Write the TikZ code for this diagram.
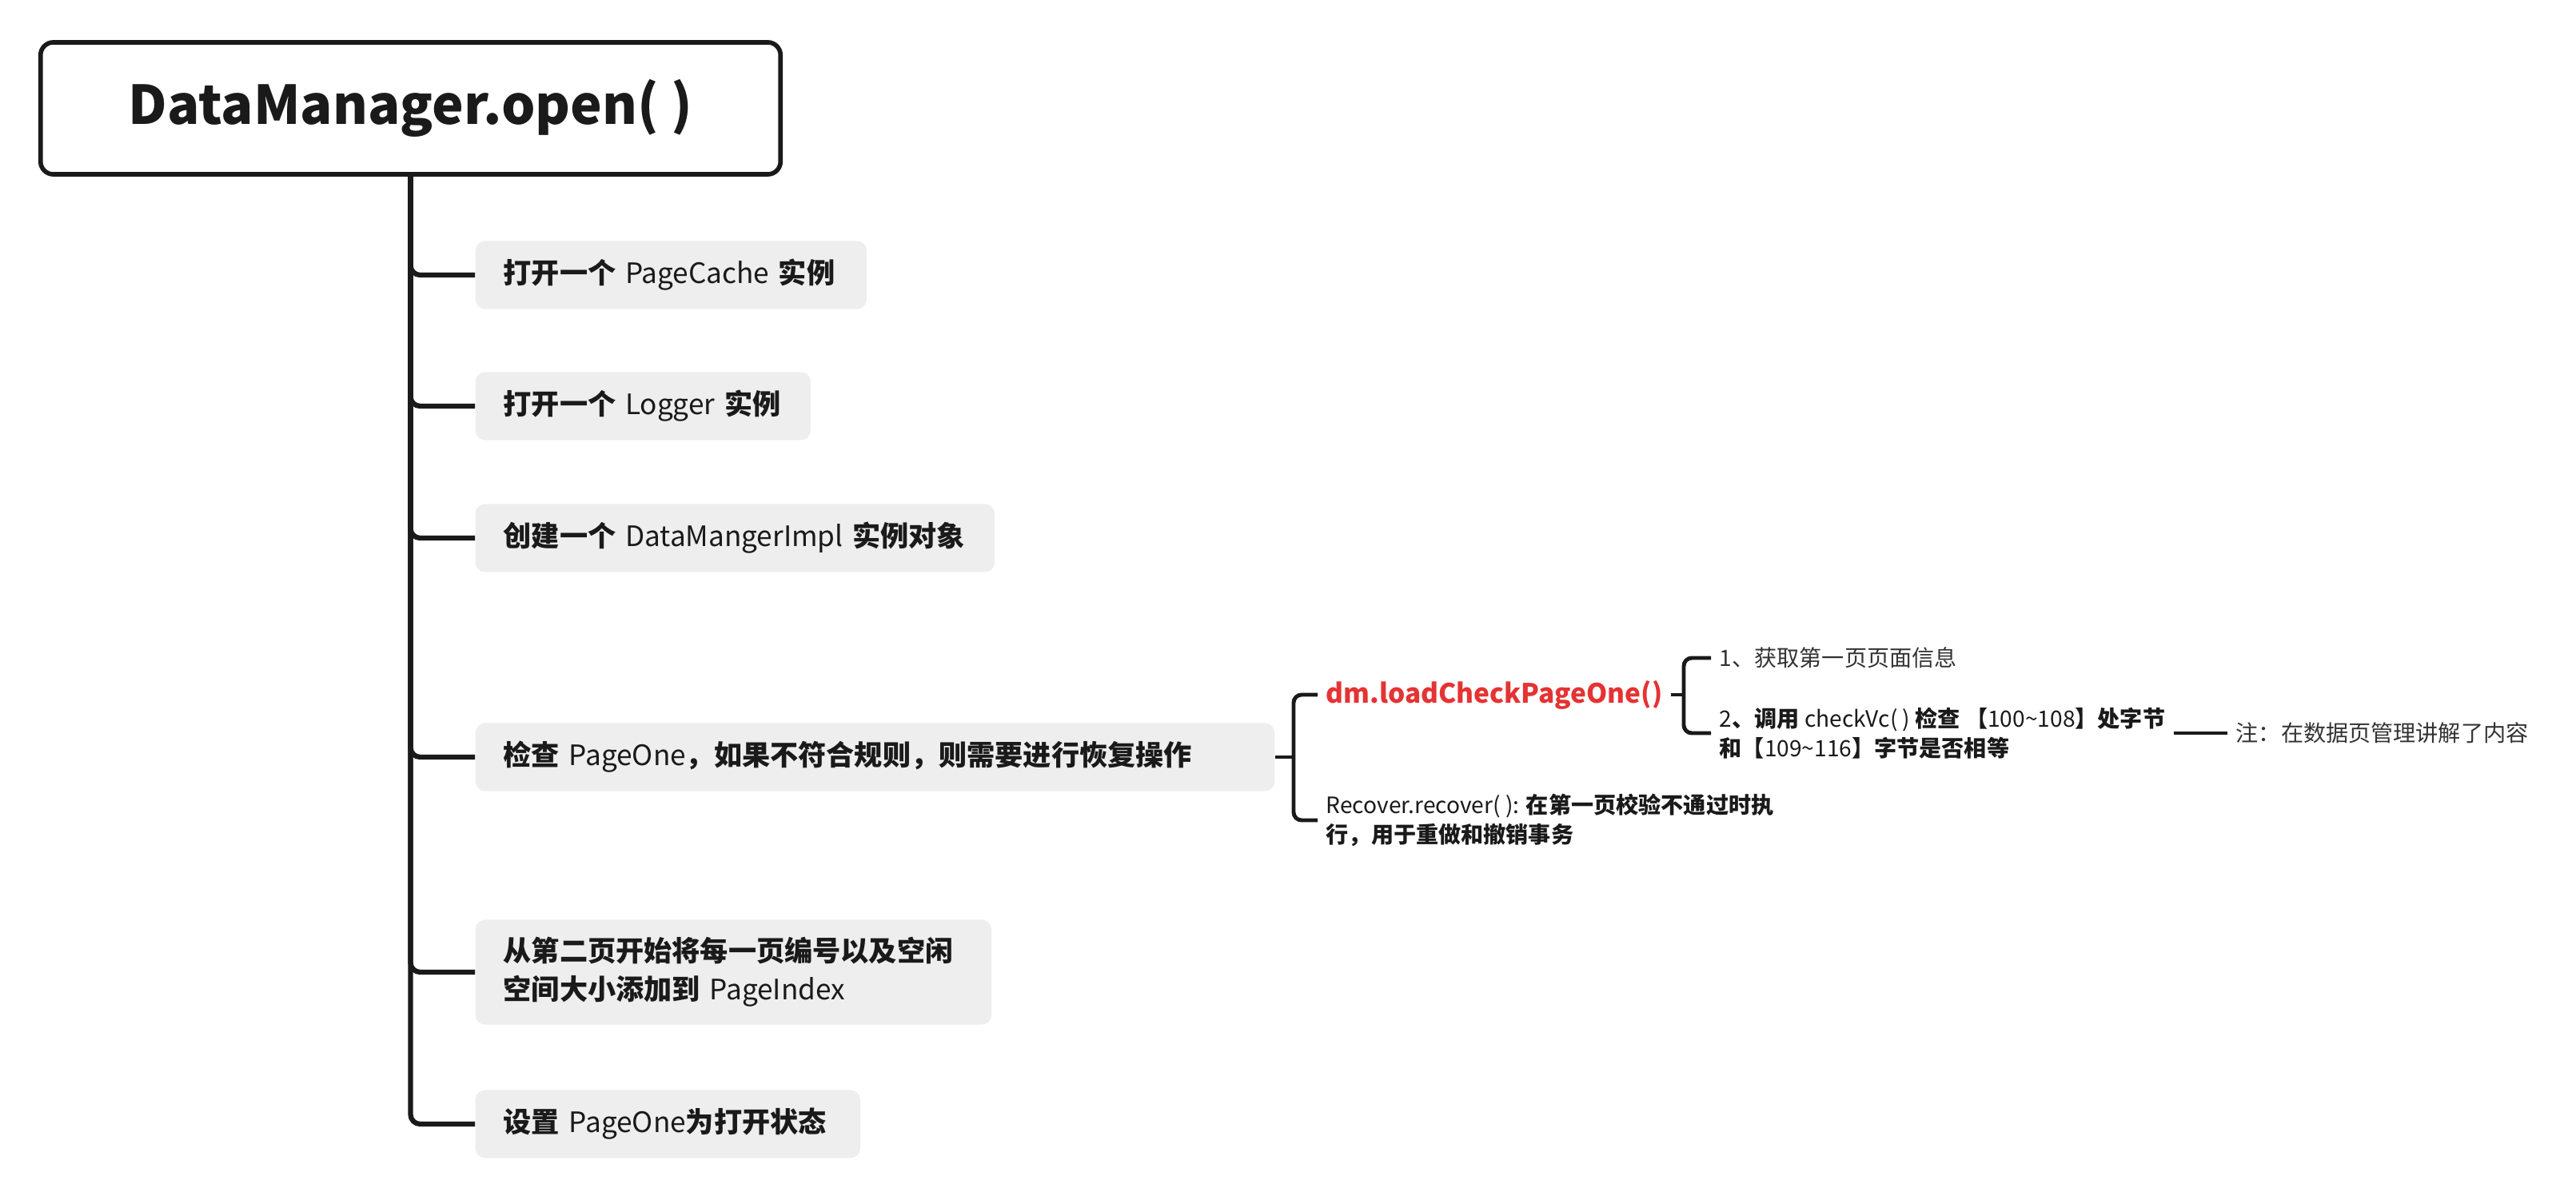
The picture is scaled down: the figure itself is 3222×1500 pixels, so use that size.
\documentclass[tikz,border=0pt]{standalone}
\usepackage{fontspec}
\setmainfont{Noto Sans CJK SC}
\usepackage{xcolor}
\usepackage{tikz}
\usetikzlibrary{positioning}

\definecolor{boxgray}{HTML}{EEEEEE}
\definecolor{linedark}{HTML}{1A1A1A}
\definecolor{txtred}{HTML}{E53333}
\definecolor{notegray}{HTML}{333333}
\newcommand{\zb}[1]{\textbf{#1}}

\begin{document}
\begin{tikzpicture}[x=0.01cm, y=-0.01cm,
  rootbox/.style={draw=linedark, line width=1.6pt, rounded corners=0.16cm,
    minimum width=9.25cm, minimum height=1.65cm, text=linedark,
    font=\fontsize{19}{23}\selectfont\bfseries},
  stepbox/.style={fill=boxgray, rounded corners=0.12cm, anchor=west,
    inner xsep=0.35cm, minimum height=0.85cm, align=left, text=linedark,
    font=\fontsize{10}{13.7}\selectfont},
  leaf/.style={anchor=west, inner xsep=0.1cm, inner ysep=0.05cm, align=left,
    text=linedark, font=\fontsize{8}{10.7}\selectfont},
  trunk/.style={draw=linedark, line width=1.8pt, rounded corners=0.12cm},
  twig/.style={draw=linedark, line width=1.4pt, rounded corners=0.1cm}]
\useasboundingbox (0,0) rectangle (3222,1500);

% root
\node[rootbox] (root) at (513.5,135.5) {DataManager.open( )};

% steps (box widths as in the map)
\node[stepbox, text width=4.19cm] (cache) at (594,344) {\zb{打开一个}~PageCache~\zb{实例}};
\node[stepbox, text width=3.49cm] (logger) at (594,508) {\zb{打开一个}~Logger~\zb{实例}};
\node[stepbox, text width=5.79cm] (impl) at (594,673) {\zb{创建一个}~DataMangerImpl~\zb{实例对象}};
\node[stepbox, text width=9.29cm] (pageone) at (594,947) {\zb{检查}~PageOne\zb{，如果不符合规则，则需要进行恢复操作}};
\node[stepbox, text width=5.75cm, minimum height=1.31cm] (pageidx) at (594,1216) {\zb{从第二页开始将每一页编号以及空闲}\\\zb{空间大小添加到}~PageIndex};
\node[stepbox, text width=4.11cm] (setopen) at (594,1406) {\zb{设置}~PageOne\zb{为打开状态}};

\foreach \n in {cache,logger,impl,pageone,pageidx,setopen}
  \draw[trunk] (root.south) |- (\n.west);

% check of page one
\node[leaf, font=\fontsize{9.5}{12}\selectfont\bfseries, text=txtred] (check) at (1648,869) {dm.loadCheckPageOne()};
\node[leaf] (recover) at (1648,1026) {Recover.recover( ): \zb{在第一页校验不通过时执}\\\zb{行，用于重做和撤销事务}};
\coordinate (forka) at (1618,947);
\draw[twig] (pageone.east) -- (forka);
\draw[twig] (check.west) -| (forka) |- (recover.west);

% details of the check
\node[leaf, text=notegray] (first) at (2140,823) {1、获取第一页页面信息};
\node[leaf] (vc) at (2140,917) {2\zb{、调用} checkVc( ) \zb{检查} \zb{【}100\textasciitilde108\zb{】处字节}\\\zb{和【}109\textasciitilde116\zb{】字节是否相等}};
\coordinate (forkb) at (2106,869);
\draw[twig] (check.east) -- (forkb);
\draw[twig] (first.west) -| (forkb) |- (vc.west);

% note
\node[leaf, text=notegray] (note) at (2786,917) {注：在数据页管理讲解了内容};
\draw[linedark, line width=1pt] (vc.east) -- (note.west);
\end{tikzpicture}
\end{document}
